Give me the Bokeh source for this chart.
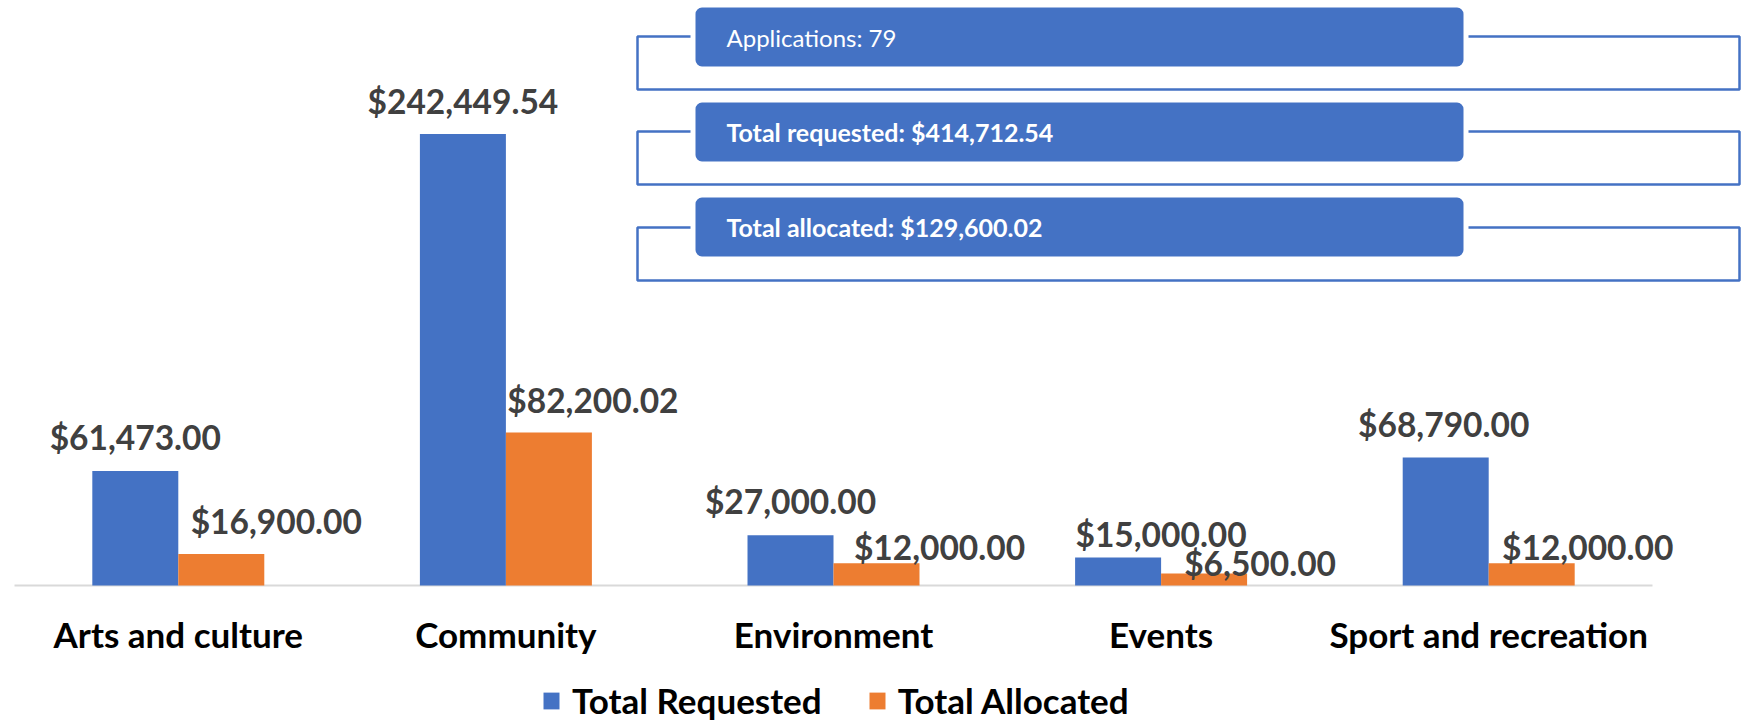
from bokeh.plotting import figure
from bokeh.models import Range1d, Legend, LegendItem, ColumnDataSource
from bokeh.core.properties import value
from bokeh.transform import dodge
from bokeh.embed import file_html
from bokeh.resources import INLINE

# ---------------- data ----------------
categories = ["Arts and culture", "Community", "Environment", "Events", "Sport and recreation"]
requested = [61473.00, 242449.54, 27000.00, 15000.00, 68790.00]
allocated = [16900.00, 82200.02, 12000.00, 6500.00, 12000.00]
applications = 79
series_names = ["Total Requested", "Total Allocated"]

# ---------------- label placement (px) ----------------
req_dx = [0, 0, 0, 43, -2]
req_gap = [23, 22, 23, 13, 22]
alloc_dx = [55, 44, 63, 56, 56]
alloc_gap = [22, 21, 5, -1, 5]
BASELINE_FIX = 11

BLUE = "#4472C4"
ORANGE = "#ED7D31"
LABEL_GRAY = "#404040"
FONT = value("Lato")

W, H = 1742, 721
BASE_Y = 585            # pixel row of the value axis zero line
PX_PER_UNIT = 327.6
DOLLARS_PER_PX = 537.0
BW = 0.2625

x0 = -0.5 - 14 / PX_PER_UNIT
p = figure(width=W, height=H, output_backend="svg", toolbar_location=None,
           x_range=Range1d(x0, x0 + W / PX_PER_UNIT),
           y_range=Range1d(-(H - BASE_Y) * DOLLARS_PER_PX, BASE_Y * DOLLARS_PER_PX),
           min_border=0, x_axis_location=None, y_axis_location=None,
           outline_line_color=None, background_fill_color="white")
p.extra_x_ranges = {"px": Range1d(0, W)}
p.extra_y_ranges = {"px": Range1d(H, 0)}
p.xgrid.visible = False
p.ygrid.visible = False

idx = list(range(len(categories)))
src = ColumnDataSource(dict(
    x=idx, cat=categories, zero=[0] * len(categories),
    req=requested, alloc=allocated,
    req_lbl=[f"${v:,.2f}" for v in requested],
    alloc_lbl=[f"${v:,.2f}" for v in allocated],
    req_dx=req_dx, req_dy=[-(g + BASELINE_FIX) for g in req_gap],
    alloc_dx=alloc_dx, alloc_dy=[-(g + BASELINE_FIX) for g in alloc_gap],
))

# category axis line
p.segment(x0=[-0.5], x1=[len(categories) - 0.5], y0=[0], y1=[0],
          line_color="#D9D9D9", line_width=2)

r_req = p.vbar(x=dodge("x", -BW / 2), top="req", width=BW, bottom=0, source=src,
               fill_color=BLUE, line_color=None)
r_alloc = p.vbar(x=dodge("x", BW / 2), top="alloc", width=BW, bottom=0, source=src,
                 fill_color=ORANGE, line_color=None)

lbl_kw = dict(text_font=FONT, text_font_style="bold", text_font_size="33.5px",
              text_color=LABEL_GRAY, text_align="center", text_baseline="alphabetic")
p.text(x=dodge("x", -BW / 2), y="req", text="req_lbl", x_offset="req_dx",
       y_offset="req_dy", source=src, **lbl_kw)
p.text(x=dodge("x", BW / 2), y="alloc", text="alloc_lbl", x_offset="alloc_dx",
       y_offset="alloc_dy", source=src, **lbl_kw)

# category tick labels
p.text(x="x", y="zero", text="cat", source=src, y_offset=59 - BASELINE_FIX,
       text_font=FONT, text_font_style="bold", text_font_size="35px",
       text_color="black", text_align="center", text_baseline="alphabetic")

# ---------------- summary boxes (pixel space) ----------------
box_texts = [f"Applications: {applications}",
             f"Total requested: ${sum(requested):,.2f}",
             f"Total allocated: ${sum(allocated):,.2f}"]
box_top = [7, 102, 197]
box_h = 59
out_top = [36, 131, 227]
out_h = 53
p.quad(left=637, right=1739, top=out_top, bottom=[t + out_h for t in out_top],
       x_range_name="px", y_range_name="px", fill_color=None,
       line_color=BLUE, line_width=2.5)
p.quad(left=695 - 2.5, right=1463 + 2.5, top=[t - 2.5 for t in box_top],
       bottom=[t + box_h + 2.5 for t in box_top],
       x_range_name="px", y_range_name="px", fill_color=BLUE,
       line_color="white", line_width=5, border_radius=9)
p.text(x=[726], y=[box_top[0] + box_h / 2], text=[box_texts[0]],
       x_range_name="px", y_range_name="px", text_font=FONT, text_font_size="24px",
       text_color="white", text_baseline="middle", text_align="left")
p.text(x=[726, 726], y=[box_top[1] + box_h / 2, box_top[2] + box_h / 2],
       text=box_texts[1:], x_range_name="px", y_range_name="px", text_font=FONT,
       text_font_style="bold", text_font_size="25px", text_color="white",
       text_baseline="middle", text_align="left")

# ---------------- legend ----------------
legend = Legend(items=[LegendItem(label=series_names[0], renderers=[r_req]),
                       LegendItem(label=series_names[1], renderers=[r_alloc])],
                orientation="horizontal", location=(541, 0),
                glyph_width=20, glyph_height=21, label_standoff=11, spacing=45,
                label_text_font="Lato", label_text_font_style="bold",
                label_text_font_size="35px", label_text_color="black",
                border_line_color=None, background_fill_alpha=0,
                padding=0, margin=0)
p.add_layout(legend)

open("out.html", "w").write(file_html(p, INLINE))
